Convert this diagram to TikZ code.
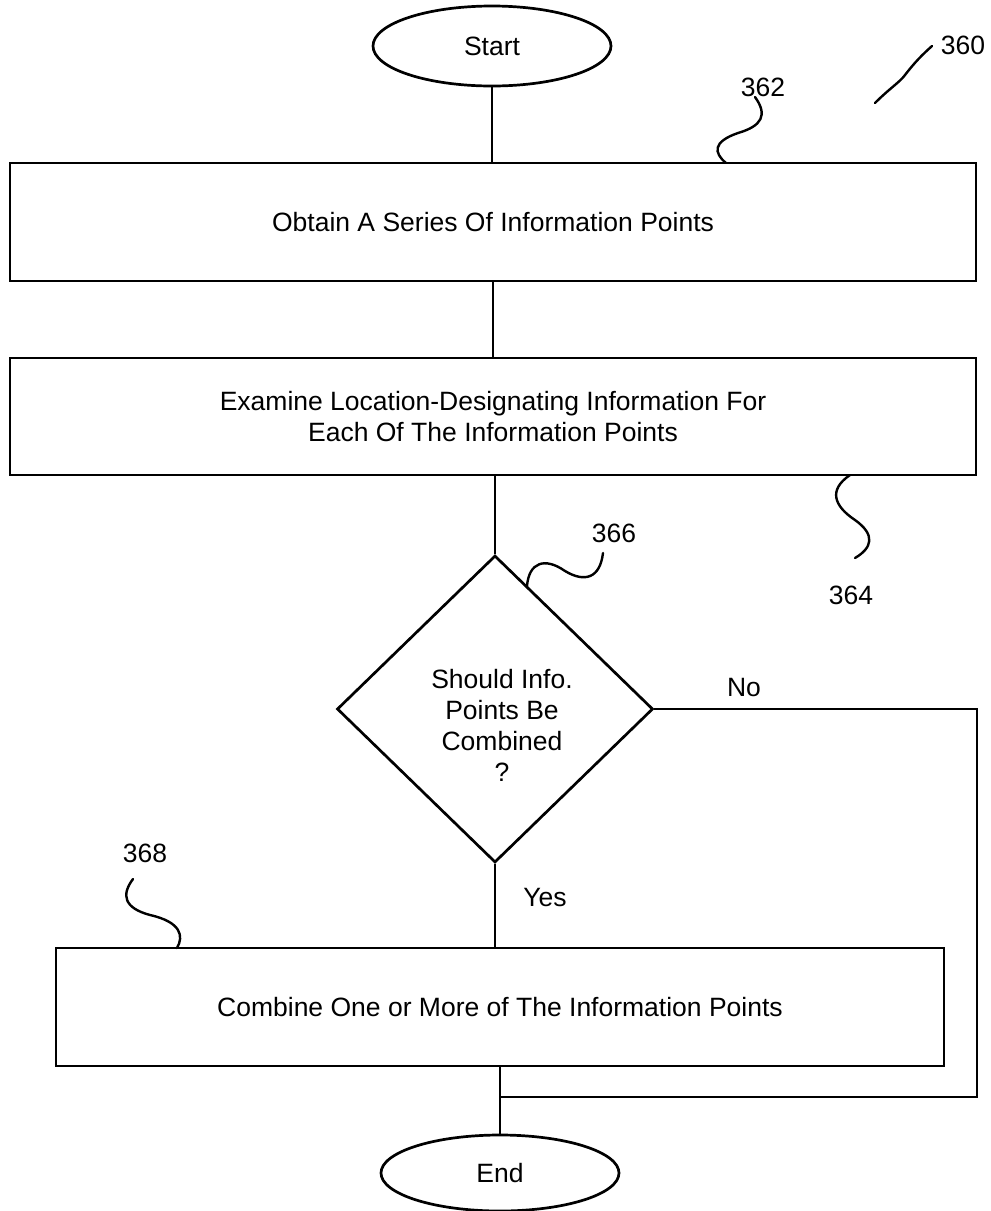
\documentclass[tikz,border=0pt]{standalone}
\usepackage{fontspec}
\setmainfont{Liberation Sans}
\usetikzlibrary{shapes.geometric}
\begin{document}
\begin{tikzpicture}[x=1pt,y=-1pt,
  every node/.style={font=\fontsize{26.5}{31}\selectfont},
  ln/.style={line width=2.7pt},
  term/.style={ellipse,draw,line width=2.7pt,minimum width=238pt,minimum height=80pt,inner sep=0pt},
  stepbox/.style={rectangle,draw,line width=2.7pt,inner sep=0pt,align=center},
  decbox/.style={diamond,draw,line width=2.7pt,inner sep=0pt,minimum width=316pt,minimum height=307pt,align=center},
  lbl/.style={inner sep=0pt},
  lead/.style={line width=2.4pt,line cap=round}]
\useasboundingbox (0,0) rectangle (991,1211);

\node[term] (start) at (492,46) {Start};
\node[stepbox,minimum width=966pt,minimum height=118pt] (b1) at (493,222) {Obtain A Series Of Information Points};
\node[stepbox,minimum width=966pt,minimum height=117pt] (b2) at (493,416.5) {Examine Location-Designating Information For\\Each Of The Information Points};
\node[decbox] (dec) at (495,709) {};
\node[lbl,align=center] (dectext) at (502,725) {Should Info.\\Points Be\\Combined\\?};
\node[stepbox,minimum width=888pt,minimum height=118pt] (b3) at (500,1007) {Combine One or More of The Information Points};
\node[term,minimum height=76pt] (end) at (500,1173) {End};

\coordinate (c1) at (977,709);
\coordinate (c2) at (977,1097);
\coordinate (merge) at (500,1097);

\draw[ln] (start.south) -- (start.south |- b1.north);
\draw[ln] (b1.south) -- (b1.south |- b2.north);
\draw[ln] (b2.south -| dec.north) -- (dec.north);
\draw[ln] (dec.south) -- (dec.south |- b3.north);
\draw[ln] (b3.south -| end.north) -- (end.north);
\draw[ln] (dec.east) -- (c1) -- (c2) -- (merge);

\node[lbl] (no) at (744,688) {No};
\node[lbl] (yes) at (545,898) {Yes};

\node[lbl] (n360) at (963,45) {360};
\node[lbl] (n362) at (763,87) {362};
\node[lbl] (n364) at (851,595) {364};
\node[lbl] (n366) at (614,533) {366};
\node[lbl] (n368) at (145,853) {368};

\draw[lead] (875,103) .. controls (890,88) and (900,82) .. (905,75) .. controls (915,62) and (922,55) .. (932,46);
\draw[lead] (755,97) .. controls (768,115) and (762,126) .. (738,133) .. controls (712,142) and (714,153) .. (726,163);
\draw[lead] (850,475) .. controls (828,490) and (834,506) .. (855,520) .. controls (876,535) and (872,548) .. (855,558);
\draw[lead] (603,553) .. controls (600,578) and (585,583) .. (565,571) .. controls (545,557) and (529,562) .. (527,586);
\draw[lead] (133,879) .. controls (121,895) and (124,908) .. (150,915) .. controls (181,922) and (184,936) .. (177,948);
\end{tikzpicture}
\end{document}
